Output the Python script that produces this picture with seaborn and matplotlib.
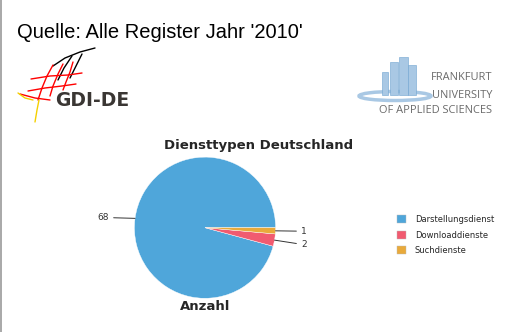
import matplotlib
matplotlib.use("Agg")
import matplotlib.pyplot as plt
import seaborn as sns
import numpy as np
from matplotlib.lines import Line2D
from matplotlib.patches import Rectangle, Ellipse

categories = ["Darstellungsdienst", "Downloaddienste", "Suchdienste"]
values = [68, 2, 1]
colors = ["#4FA6DA", "#F15B70", "#E9AA3B"]
chart_title = "Diensttypen Deutschland"
series_name = "Anzahl"
source_title = "Quelle: Alle Register Jahr '2010'"

sns.set_theme(style="white")
plt.rcParams['font.family'] = ['DejaVu Sans']

W, H = 513, 332
fig = plt.figure(figsize=(W / 100, H / 100), dpi=100)
fig.patch.set_facecolor("white")

def fx(x):
    return x / W

def fy(y):
    return 1 - y / H

# left border
fig.add_artist(Line2D([fx(0.5), fx(0.5)], [0, 1], color="#999999", lw=1.2))

# source title
fig.text(fx(17), fy(33), source_title, fontsize=14.5, family="Liberation Sans",
         color="black", va="center", ha="left")

# GDI-DE logo (approximation)
for (xs, ys, c) in [
    ([53, 65, 80, 95], [66, 58, 52, 48], "black"),
    ([58, 64, 72], [80, 68, 56], "black"),
    ([70, 76, 82], [78, 66, 54], "black"),
    ([31, 50, 68, 82], [79, 76, 75, 73], "red"),
    ([28, 45, 62, 76], [91, 88, 86, 84], "red"),
    ([20, 35, 50], [94, 98, 100], "red"),
    ([38, 42, 47, 53], [100, 88, 76, 65], "red"),
    ([50, 53, 58, 63], [96, 86, 74, 64], "red"),
    ([63, 66, 70, 73], [90, 82, 72, 62], "red"),
    ([18, 25, 33], [93, 98, 100], "#F5D000"),
    ([35, 37, 39], [122, 110, 100], "#F5D000"),
]:
    fig.add_artist(Line2D([fx(x) for x in xs], [fy(y) for y in ys], color=c, lw=1))
fig.text(fx(55), fy(101), "GDI-DE", fontsize=13.5, fontweight="bold",
         color="#3A3633", va="center", ha="left")

# Frankfurt UAS logo (approximation)
fig.add_artist(Ellipse((fx(395), fy(96)), fx(72), 9 / H, fill=False,
                       edgecolor="#A9C8E4", lw=2.5))
for (x0, y0, w, h) in [(382, 72, 6, 23), (390, 62, 8, 33), (399, 57, 9, 38), (408, 65, 8, 30)]:
    fig.add_artist(Rectangle((fx(x0), fy(y0 + h)), w / W, h / H, facecolor="#A9C8E4",
                             edgecolor="#6FA3D0", lw=0.4))
for txt, yy in [("FRANKFURT", 78), ("UNIVERSITY", 95), ("OF APPLIED SCIENCES", 111)]:
    fig.text(fx(492), fy(yy), txt, fontsize=7.9, color="#6A6A6A", ha="right", va="center",
             family="Open Sans")

# pie
cx, cy, r = 205, 227.7, 70.6
pad = 75
ax = fig.add_axes([fx(cx - pad), fy(cy + pad), 2 * pad / W, 2 * pad / H])
wedges, _ = ax.pie(values, colors=colors, startangle=0, counterclock=True,
                   wedgeprops=dict(edgecolor="white", linewidth=0.3))
lim = pad / r
ax.set_xlim(-lim, lim)
ax.set_ylim(-lim, lim)
ax.set_aspect("equal")
ax.axis("off")

# labels with connector lines
label_pos = {0: (-1.36, 0.145), 1: (1.36, -0.24), 2: (1.36, -0.05)}
for i, w in enumerate(wedges):
    ang = np.deg2rad((w.theta1 + w.theta2) / 2)
    x, y = np.cos(ang), np.sin(ang)
    tx, ty = label_pos[i]
    ha = "right" if tx < 0 else "left"
    ax.annotate(str(values[i]), xy=(x, y), xytext=(tx, ty), fontsize=6.5,
                ha=ha, va="center", color="#333333", annotation_clip=False,
                arrowprops=dict(arrowstyle="-", color="#333333", lw=0.7,
                                shrinkA=1, shrinkB=0))

fig.text(fx(259), fy(145), chart_title, fontsize=9.5, fontweight="bold", ha="center", va="center")
fig.text(fx(205), fy(306), series_name, fontsize=9.5, fontweight="bold", ha="center", va="center")

# legend
handles = [Rectangle((0, 0), 1, 1, facecolor=c, edgecolor="#BBBBBB", lw=0.3) for c in colors]
fig.legend(handles, categories, loc="center left", bbox_to_anchor=(fx(389), fy(235)),
           frameon=False, fontsize=6.0, handlelength=1.1, handleheight=1.1,
           handletextpad=1.1, labelspacing=0.75)

fig.savefig("out.png", dpi=100, facecolor="white")
